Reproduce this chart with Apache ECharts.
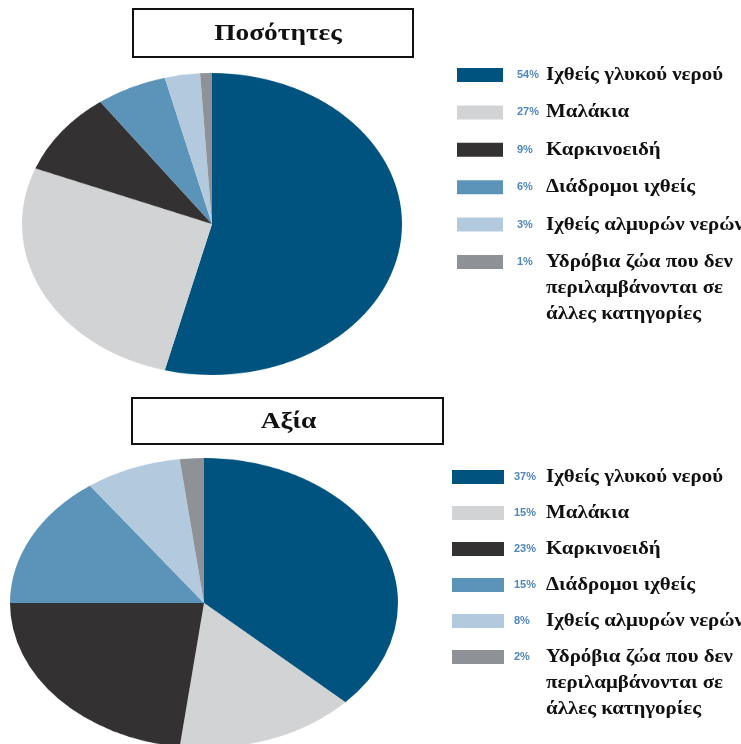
<!DOCTYPE html>
<html><head><meta charset="utf-8">
<script src="https://cdn.jsdelivr.net/npm/echarts@6/dist/echarts.min.js"></script>
<style>
html,body{margin:0;padding:0;width:741px;height:744px;overflow:hidden;background:#fff;}
#main{position:absolute;left:0;top:0;width:741px;height:744px;}
.pie{position:absolute;transform-origin:50% 50%;}
</style></head><body>
<div id="main"></div>
<div id="pieTop" class="pie"></div>
<div id="pieBot" class="pie"></div>
<script>
// ---- data ----
const categories = [
  'Ιχθείς γλυκού νερού',
  'Μαλάκια',
  'Καρκινοειδή',
  'Διάδρομοι ιχθείς',
  'Ιχθείς αλμυρών νερών',
  'Υδρόβια ζώα που δεν\nπεριλαμβάνονται σε\nάλλες κατηγορίες'
];
const quantityShares = [54, 27, 9, 6, 3, 1];
const valueShares = [37, 15, 23, 15, 8, 2];
const panelTitles = ['Ποσότητες', 'Αξία'];

// ---- styles / layout ----
const colors = ['#00537f', '#d1d3d5', '#333132', '#5c93b9', '#b3c9de', '#8e9196'];
const serif = '"Liberation Serif","DejaVu Serif",serif';
const narrow = '"Liberation Sans Narrow","Liberation Sans",sans-serif';

const panels = [
  { title: panelTitles[0], values: quantityShares, box: [133, 9, 280, 48], titleDx: 5,
    pie: { id: 'pieTop', cx: 211.5, cy: 224, rx: 190, ry: 151 },
    leg: { iconX: 457, iconW: 46, pctX: 517, labX: 546, y0: 75, gap: 37.4 } },
  { title: panelTitles[1], values: valueShares, box: [132, 398, 311, 46], titleDx: 1,
    pie: { id: 'pieBot', cx: 204, cy: 603, rx: 194, ry: 145 },
    leg: { iconX: 452, iconW: 52, pctX: 514, labX: 546, y0: 477, gap: 36 } }
];

function makePie(p) {
  const g = p.pie;
  const el = document.getElementById(g.id);
  const size = 2 * g.rx + 4;
  el.style.left = (g.cx - size / 2) + 'px';
  el.style.top = (g.cy - size / 2) + 'px';
  el.style.width = size + 'px';
  el.style.height = size + 'px';
  el.style.transform = 'scaleY(' + (g.ry / g.rx) + ')';
  const ch = echarts.init(el, null, { renderer: 'canvas' });
  ch.setOption({
    animation: false,
    color: colors,
    series: [{
      type: 'pie',
      radius: g.rx,
      center: ['50%', '50%'],
      startAngle: 90,
      clockwise: true,
      avoidLabelOverlap: false,
      label: { show: false },
      labelLine: { show: false },
      emphasis: { disabled: true },
      itemStyle: { borderWidth: 0 },
      data: categories.map((c, i) => ({ name: c, value: p.values[i] }))
    }]
  });
}
panels.forEach(makePie);

const graphics = [];
panels.forEach(p => {
  const [bx, by, bw, bh] = p.box;
  graphics.push({
    type: 'rect', shape: { x: bx, y: by, width: bw, height: bh },
    style: { fill: '#fff', stroke: '#111', lineWidth: 2 }
  });
  graphics.push({
    type: 'text', x: bx + bw / 2 + p.titleDx, y: by + bh / 2 + 1, scaleX: 1.14,
    style: { text: p.title, font: 'bold 24px ' + serif, fill: '#111',
             align: 'center', verticalAlign: 'middle' }
  });
  const L = p.leg;
  categories.forEach((c, i) => {
    const yc = L.y0 + i * L.gap;
    graphics.push({
      type: 'rect', shape: { x: L.iconX, y: yc - 7, width: L.iconW, height: 14 },
      style: { fill: colors[i] }
    });
    graphics.push({
      type: 'text', x: L.pctX, y: yc,
      style: { text: p.values[i] + '%', font: 'bold 11px ' + narrow, fill: '#4f86bb',
               verticalAlign: 'middle', align: 'left' }
    });
    graphics.push({
      type: 'text', x: L.labX, y: yc - 13, scaleX: 1.1,
      style: { text: c, font: 'bold 19px ' + serif, fill: '#111',
               verticalAlign: 'top', align: 'left', lineHeight: 26 }
    });
  });
});

const main = echarts.init(document.getElementById('main'), null, { renderer: 'canvas' });
main.setOption({
  animation: false,
  backgroundColor: '#fff',
  graphic: graphics
});
</script>
</body></html>
